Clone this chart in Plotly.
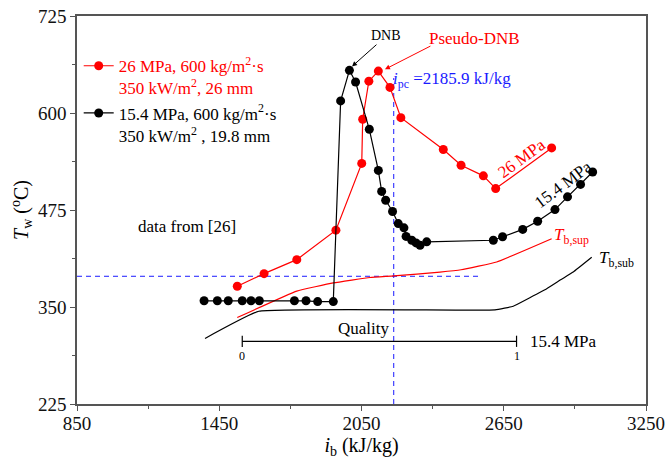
import plotly.graph_objects as go

# 26 MPa wall temperature data
sup_enthalpy = [1526, 1639, 1777, 1942, 2051, 2055, 2081, 2121, 2170, 2216, 2395, 2470, 2564, 2616, 2852]
sup_wall_temp = [376.7, 393, 411, 449, 535, 592, 641, 654, 633, 594, 553, 532.6, 519, 502.6, 555]

# 15.4 MPa wall temperature data
sub_enthalpy = [1386, 1442, 1488, 1547, 1584, 1619, 1767, 1816, 1865, 1931, 1962, 1999, 2025,
                2083, 2121, 2135, 2152, 2181, 2205, 2229, 2238, 2262, 2280, 2297, 2325,
                2606, 2645, 2730, 2793, 2866, 2919, 2974, 3025]
sub_wall_temp = [358, 358, 358, 358, 358, 358, 358, 358, 357, 357, 615.6, 655, 640,
                 579, 526, 499, 487.5, 473, 457.5, 452, 441, 436, 432.6, 429.5, 434,
                 436, 440.5, 450, 460.5, 475.5, 492, 508, 524]

# bulk fluid temperature, 26 MPa
tb_sup_enthalpy = [1526, 1777, 1931, 2086, 2186, 2381, 2470, 2620, 2852]
tb_sup_temp = [336.4, 370.5, 381, 388, 390, 395, 398, 408, 438]

# bulk fluid temperature, 15.4 MPa
tb_sub_enthalpy = [1390, 1617, 2613, 2690, 2760, 2831, 2890, 2943, 3021]
tb_sub_temp = [309.5, 344.5, 346.3, 351, 362, 373.5, 385, 395, 414]

# pseudo-critical references
i_pc = 2185.9
t_pc = 389.6
t_pc_line_end = 2556
i_pc_line_top = 645

# quality scale for 15.4 MPa
quality_ticks = ["0", "1"]
quality_enthalpy = [1547, 2704]
quality_level = 305.8

x_ticks = [850, 1450, 2050, 2650, 3250]
y_ticks = [225, 350, 475, 600, 725]

FONT = "Liberation Serif, Tinos, DejaVu Serif, Noto Serif, serif"
RED = "#ff0000"
BLUE = "#1a1aff"

fig = go.Figure()

# reference lines (drawn first, underneath data)
fig.add_trace(go.Scatter(x=[850, t_pc_line_end], y=[t_pc, t_pc], mode="lines",
                         line=dict(color=BLUE, width=1, dash="5px,4px"),
                         showlegend=False, hoverinfo="skip"))
fig.add_trace(go.Scatter(x=[i_pc, i_pc], y=[225, i_pc_line_top], mode="lines",
                         line=dict(color=BLUE, width=1, dash="5px,4px"),
                         showlegend=False, hoverinfo="skip"))

fig.add_trace(go.Scatter(x=tb_sup_enthalpy, y=tb_sup_temp, mode="lines",
                         line=dict(color=RED, width=1.2, shape="spline", smoothing=0.3),
                         showlegend=False))
fig.add_trace(go.Scatter(x=tb_sub_enthalpy, y=tb_sub_temp, mode="lines",
                         line=dict(color="#000000", width=1.2, shape="spline", smoothing=0.3),
                         showlegend=False))

# quality bar
fig.add_trace(go.Scatter(x=quality_enthalpy, y=[quality_level] * 2, mode="lines+markers",
                         line=dict(color="#000000", width=1.2),
                         marker=dict(symbol="line-ns-open", size=8,
                                     line=dict(color="#000000", width=1.2)),
                         showlegend=False))

fig.add_trace(go.Scatter(
    x=sup_enthalpy, y=sup_wall_temp, mode="lines+markers",
    line=dict(color=RED, width=1.2),
    marker=dict(color=RED, size=9),
    legendgroup="p26",
    name="<span style='color:#ff0000'>26 MPa, 600 kg/m<sup>2</sup>·s<br>350 kW/m<sup>2</sup>, 26 mm</span>",
))
fig.add_trace(go.Scatter(
    x=sub_enthalpy, y=sub_wall_temp, mode="lines+markers",
    line=dict(color="#000000", width=1.2),
    marker=dict(color="#000000", size=9),
    legendgroup="p154",
    name="15.4 MPa, 600 kg/m<sup>2</sup>·s<br>350 kW/m<sup>2</sup> , 19.8 mm",
))

ann = []
# DNB arrows
ann.append(dict(x=2010, y=660, ax=2119.5, ay=689.8, xref="x", yref="y", axref="x", ayref="y",
                text="", showarrow=True, arrowhead=2, arrowsize=1, arrowwidth=1,
                arrowcolor="#000000"))
ann.append(dict(x=2149, y=656.3, ax=2347, ay=687.2, xref="x", yref="y", axref="x", ayref="y",
                text="", showarrow=True, arrowhead=2, arrowsize=1, arrowwidth=1,
                arrowcolor=RED))
ann.append(dict(x=2153, y=700, text="DNB", showarrow=False,
                font=dict(family=FONT, size=14, color="#000000")))
ann.append(dict(x=2527, y=696, text="Pseudo-DNB", showarrow=False,
                font=dict(family=FONT, size=17, color=RED)))
ann.append(dict(x=i_pc, y=642, xanchor="left", yanchor="middle", xshift=-3,
                text="<i>i</i><sub>pc</sub> =2185.9 kJ/kg", showarrow=False,
                font=dict(family=FONT, size=17, color=BLUE)))
ann.append(dict(x=2726, y=541, text="26 MPa", textangle=-36, showarrow=False,
                font=dict(family=FONT, size=17, color=RED)))
ann.append(dict(x=2901, y=508, text="15.4 MPa", textangle=-37, showarrow=False,
                font=dict(family=FONT, size=17, color="#000000")))
ann.append(dict(x=2853, y=441, xanchor="left", text="<i>T</i><sub>b,sup</sub>",
                showarrow=False, font=dict(family=FONT, size=17, color=RED)))
ann.append(dict(x=3042, y=412, xanchor="left", text="<i>T</i><sub>b,sub</sub>",
                showarrow=False, font=dict(family=FONT, size=17, color="#000000")))
ann.append(dict(x=1314, y=454, text="data from [26]", showarrow=False,
                font=dict(family=FONT, size=17, color="#000000")))
ann.append(dict(x=2060, y=322.6, text="Quality", showarrow=False,
                font=dict(family=FONT, size=17, color="#000000")))
ann.append(dict(x=2752, y=quality_level, xanchor="left", text="15.4 MPa", showarrow=False,
                font=dict(family=FONT, size=17, color="#000000")))
for lbl, xv in zip(quality_ticks, quality_enthalpy):
    ann.append(dict(x=xv, y=287, text=lbl, showarrow=False,
                    font=dict(family=FONT, size=12, color="#000000")))

axis_common = dict(
    showline=True, mirror=True, linecolor="#555555", linewidth=1.5,
    showgrid=False, zeroline=False, automargin=False,
    ticks="outside", ticklen=5, tickwidth=1.2, tickcolor="#555555",
    tickfont=dict(family=FONT, size=19, color="#111111"),
)

fig.update_layout(
    width=667, height=465,
    margin=dict(l=77, r=21, t=16, b=61, autoexpand=False),
    paper_bgcolor="white", plot_bgcolor="white",
    font=dict(family=FONT, color="#000000"),
    xaxis=dict(range=[850, 3250], tickvals=x_ticks, ticklabelstandoff=-4,
               minor=dict(ticks="outside", ticklen=3, tickcolor="#555555", dtick=300, tick0=850),
               title=dict(text="<i>i</i><sub>b</sub> (kJ/kg)", standoff=2,
                          font=dict(family=FONT, size=20, color="#000000")),
               **axis_common),
    yaxis=dict(range=[225, 725], tickvals=y_ticks,
               minor=dict(ticks="outside", ticklen=3, tickcolor="#555555", dtick=62.5, tick0=225),
               title=dict(text="<i>T</i><sub>w</sub> (<sup>o</sup>C)", standoff=4,
                          font=dict(family=FONT, size=20, color="#000000")),
               **axis_common),
    legend=dict(x=0.003, y=0.917, xanchor="left", yanchor="top", valign="top",
                bgcolor="rgba(0,0,0,0)", borderwidth=0,
                font=dict(family=FONT, size=17, color="#000000"),
                tracegroupgap=0),
    annotations=ann,
    showlegend=True,
)

fig.write_html("out.html")
